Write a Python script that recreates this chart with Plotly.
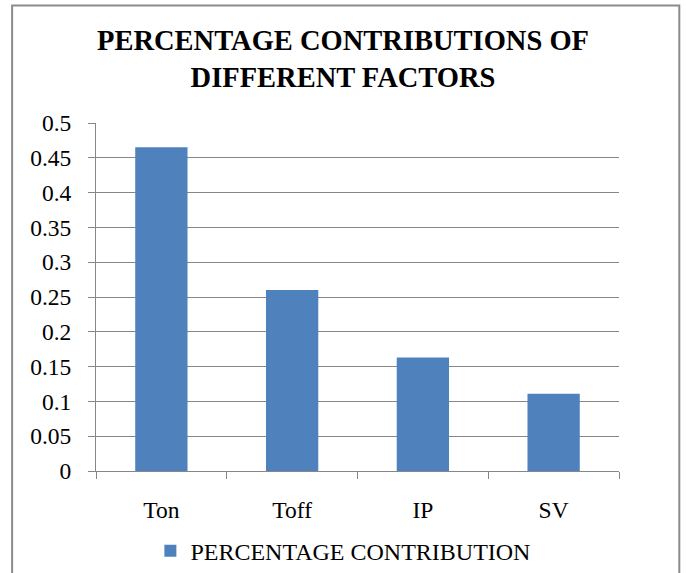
import plotly.graph_objects as go

categories = ["Ton", "Toff", "IP", "SV"]
contribution = [0.465, 0.26, 0.163, 0.111]
series_name = "PERCENTAGE CONTRIBUTION"
title_text = "PERCENTAGE CONTRIBUTIONS OF<br>DIFFERENT FACTORS"

SERIF = "Liberation Serif, Times New Roman, serif"
GRID = "#878787"

fig = go.Figure()
fig.add_trace(go.Bar(
    x=categories, y=contribution, name=series_name,
    marker=dict(color="#4F81BD", line=dict(width=0)),
    showlegend=True,
))

fig.update_layout(
    width=686, height=573,
    margin=dict(l=96, r=67, t=123, b=102, autoexpand=False),
    paper_bgcolor="white", plot_bgcolor="white",
    font=dict(family=SERIF, size=23.5, color="black"),
    bargap=0.6,
    title=dict(text=title_text, x=0.5, xref="container", xanchor="center",
               y=1 - 50 / 573, yref="container", yanchor="middle",
               font=dict(family=SERIF, size=28.5, color="black", weight="bold")),
    showlegend=True,
    legend=dict(orientation="h", x=0.473, xanchor="center", y=-0.23, yanchor="middle",
                font=dict(family=SERIF, size=24, color="black"),
                itemsizing="constant"),
    xaxis=dict(showline=True, linecolor=GRID, linewidth=1,
               ticks="outside", tickson="boundaries", ticklen=7, tickcolor=GRID,
               showgrid=False, ticklabelstandoff=18,
               tickfont=dict(family=SERIF, size=23.5, color="black")),
    yaxis=dict(range=[0, 0.5], dtick=0.05, showline=True, linecolor=GRID, linewidth=1,
               ticks="outside", ticklen=7, tickcolor=GRID,
               showgrid=True, gridcolor=GRID, gridwidth=1, zeroline=False,
               ticklabelstandoff=12,
               tickfont=dict(family=SERIF, size=23.5, color="black")),
    shapes=[dict(type="rect", xref="paper", yref="paper",
                 x0=-0.1604, x1=1.1153, y0=-0.40, y1=1.338,
                 line=dict(color="#8c8c8c", width=2), fillcolor="rgba(0,0,0,0)",
                 layer="below")],
)

fig.write_html("out.html")
